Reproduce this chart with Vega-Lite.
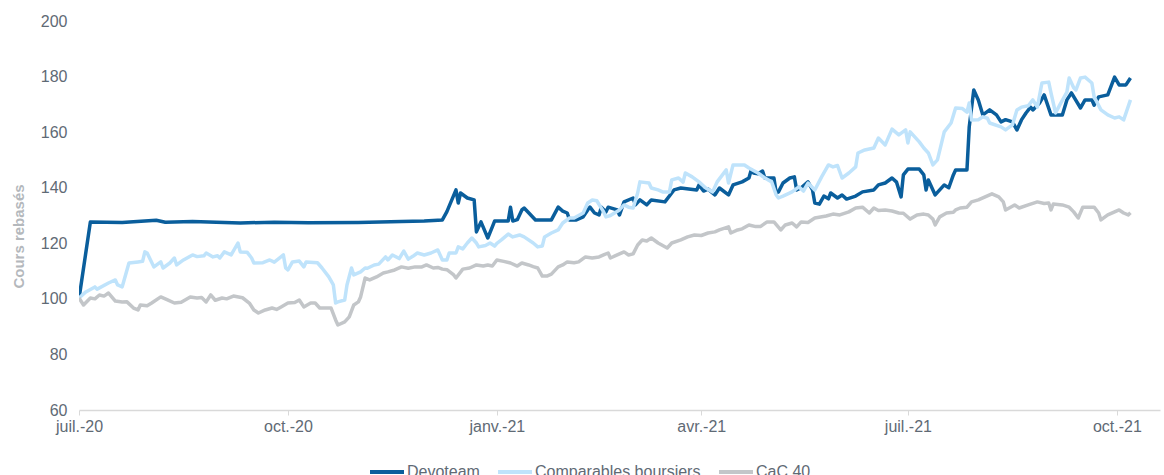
{
  "$schema": "https://vega.github.io/schema/vega-lite/v6.json",
  "width": 1081,
  "height": 389,
  "autosize": {"type": "none"},
  "padding": {"left": 79, "top": 21, "right": 4, "bottom": 65},
  "background": "white",
  "config": {
    "font": "Liberation Sans",
    "view": {"stroke": null}
  },
  "data": {"values": [
{"serie":"Devoteam","date":"2020-07-01","valeur":100},{"serie":"Devoteam","date":"2020-07-06","valeur":127.7},{"serie":"Devoteam","date":"2020-07-20","valeur":127.5},{"serie":"Devoteam","date":"2020-08-04","valeur":128.3},{"serie":"Devoteam","date":"2020-08-08","valeur":127.6},{"serie":"Devoteam","date":"2020-08-20","valeur":127.8},{"serie":"Devoteam","date":"2020-09-10","valeur":127.3},{"serie":"Devoteam","date":"2020-09-25","valeur":127.6},{"serie":"Devoteam","date":"2020-10-10","valeur":127.4},{"serie":"Devoteam","date":"2020-11-01","valeur":127.5},{"serie":"Devoteam","date":"2020-11-20","valeur":127.8},{"serie":"Devoteam","date":"2020-11-30","valeur":128},{"serie":"Devoteam","date":"2020-12-08","valeur":128.4},{"serie":"Devoteam","date":"2020-12-10","valeur":131.4},{"serie":"Devoteam","date":"2020-12-14","valeur":139.2},{"serie":"Devoteam","date":"2020-12-15","valeur":134.5},{"serie":"Devoteam","date":"2020-12-16","valeur":138.1},{"serie":"Devoteam","date":"2020-12-19","valeur":136.3},{"serie":"Devoteam","date":"2020-12-22","valeur":135.6},{"serie":"Devoteam","date":"2020-12-23","valeur":124.1},{"serie":"Devoteam","date":"2020-12-25","valeur":127.7},{"serie":"Devoteam","date":"2020-12-28","valeur":121.9},{"serie":"Devoteam","date":"2020-12-30","valeur":125.9},{"serie":"Devoteam","date":"2020-12-31","valeur":128},{"serie":"Devoteam","date":"2021-01-06","valeur":128},{"serie":"Devoteam","date":"2021-01-07","valeur":133},{"serie":"Devoteam","date":"2021-01-08","valeur":128},{"serie":"Devoteam","date":"2021-01-10","valeur":128.5},{"serie":"Devoteam","date":"2021-01-12","valeur":132},{"serie":"Devoteam","date":"2021-01-13","valeur":132.7},{"serie":"Devoteam","date":"2021-01-15","valeur":131},{"serie":"Devoteam","date":"2021-01-18","valeur":128.4},{"serie":"Devoteam","date":"2021-01-25","valeur":128.4},{"serie":"Devoteam","date":"2021-01-28","valeur":133},{"serie":"Devoteam","date":"2021-01-30","valeur":131.6},{"serie":"Devoteam","date":"2021-02-01","valeur":130.9},{"serie":"Devoteam","date":"2021-02-02","valeur":128.4},{"serie":"Devoteam","date":"2021-02-05","valeur":128.4},{"serie":"Devoteam","date":"2021-02-08","valeur":129.5},{"serie":"Devoteam","date":"2021-02-10","valeur":132},{"serie":"Devoteam","date":"2021-02-11","valeur":133},{"serie":"Devoteam","date":"2021-02-13","valeur":130.9},{"serie":"Devoteam","date":"2021-02-15","valeur":130.2},{"serie":"Devoteam","date":"2021-02-16","valeur":133},{"serie":"Devoteam","date":"2021-02-18","valeur":131.3},{"serie":"Devoteam","date":"2021-02-19","valeur":133},{"serie":"Devoteam","date":"2021-02-23","valeur":132},{"serie":"Devoteam","date":"2021-02-24","valeur":130.2},{"serie":"Devoteam","date":"2021-02-26","valeur":134.9},{"serie":"Devoteam","date":"2021-03-02","valeur":136.3},{"serie":"Devoteam","date":"2021-03-03","valeur":133.8},{"serie":"Devoteam","date":"2021-03-05","valeur":135.6},{"serie":"Devoteam","date":"2021-03-08","valeur":133.8},{"serie":"Devoteam","date":"2021-03-10","valeur":135.6},{"serie":"Devoteam","date":"2021-03-16","valeur":134.9},{"serie":"Devoteam","date":"2021-03-20","valeur":139.2},{"serie":"Devoteam","date":"2021-03-23","valeur":139.9},{"serie":"Devoteam","date":"2021-03-30","valeur":139.2},{"serie":"Devoteam","date":"2021-03-31","valeur":141},{"serie":"Devoteam","date":"2021-04-02","valeur":138.8},{"serie":"Devoteam","date":"2021-04-04","valeur":139.5},{"serie":"Devoteam","date":"2021-04-07","valeur":137.4},{"serie":"Devoteam","date":"2021-04-09","valeur":139.9},{"serie":"Devoteam","date":"2021-04-13","valeur":137.4},{"serie":"Devoteam","date":"2021-04-15","valeur":141},{"serie":"Devoteam","date":"2021-04-19","valeur":142.1},{"serie":"Devoteam","date":"2021-04-22","valeur":143.5},{"serie":"Devoteam","date":"2021-04-23","valeur":146.4},{"serie":"Devoteam","date":"2021-04-24","valeur":145.3},{"serie":"Devoteam","date":"2021-04-26","valeur":145},{"serie":"Devoteam","date":"2021-04-28","valeur":146},{"serie":"Devoteam","date":"2021-04-29","valeur":143.5},{"serie":"Devoteam","date":"2021-05-03","valeur":143.5},{"serie":"Devoteam","date":"2021-05-04","valeur":138.1},{"serie":"Devoteam","date":"2021-05-05","valeur":138.5},{"serie":"Devoteam","date":"2021-05-07","valeur":141.7},{"serie":"Devoteam","date":"2021-05-10","valeur":143.5},{"serie":"Devoteam","date":"2021-05-12","valeur":143.9},{"serie":"Devoteam","date":"2021-05-13","valeur":139.2},{"serie":"Devoteam","date":"2021-05-15","valeur":140},{"serie":"Devoteam","date":"2021-05-18","valeur":142.1},{"serie":"Devoteam","date":"2021-05-20","valeur":139.2},{"serie":"Devoteam","date":"2021-05-21","valeur":134.5},{"serie":"Devoteam","date":"2021-05-23","valeur":134.1},{"serie":"Devoteam","date":"2021-05-25","valeur":137},{"serie":"Devoteam","date":"2021-05-27","valeur":136},{"serie":"Devoteam","date":"2021-05-28","valeur":138.1},{"serie":"Devoteam","date":"2021-05-31","valeur":136.3},{"serie":"Devoteam","date":"2021-06-02","valeur":137.4},{"serie":"Devoteam","date":"2021-06-04","valeur":135.9},{"serie":"Devoteam","date":"2021-06-08","valeur":137},{"serie":"Devoteam","date":"2021-06-11","valeur":138.5},{"serie":"Devoteam","date":"2021-06-16","valeur":139.2},{"serie":"Devoteam","date":"2021-06-18","valeur":141},{"serie":"Devoteam","date":"2021-06-21","valeur":141.7},{"serie":"Devoteam","date":"2021-06-24","valeur":143.5},{"serie":"Devoteam","date":"2021-06-26","valeur":142},{"serie":"Devoteam","date":"2021-06-28","valeur":136.7},{"serie":"Devoteam","date":"2021-06-29","valeur":144.6},{"serie":"Devoteam","date":"2021-07-01","valeur":146.7},{"serie":"Devoteam","date":"2021-07-06","valeur":146.7},{"serie":"Devoteam","date":"2021-07-08","valeur":144.6},{"serie":"Devoteam","date":"2021-07-09","valeur":139.2},{"serie":"Devoteam","date":"2021-07-10","valeur":142.8},{"serie":"Devoteam","date":"2021-07-13","valeur":137.4},{"serie":"Devoteam","date":"2021-07-17","valeur":141},{"serie":"Devoteam","date":"2021-07-19","valeur":140},{"serie":"Devoteam","date":"2021-07-21","valeur":144.6},{"serie":"Devoteam","date":"2021-07-22","valeur":146.4},{"serie":"Devoteam","date":"2021-07-27","valeur":146.4},{"serie":"Devoteam","date":"2021-07-28","valeur":161.9},{"serie":"Devoteam","date":"2021-07-30","valeur":175.2},{"serie":"Devoteam","date":"2021-08-01","valeur":171.6},{"serie":"Devoteam","date":"2021-08-03","valeur":166.2},{"serie":"Devoteam","date":"2021-08-06","valeur":168},{"serie":"Devoteam","date":"2021-08-09","valeur":166.2},{"serie":"Devoteam","date":"2021-08-11","valeur":163.7},{"serie":"Devoteam","date":"2021-08-13","valeur":164.5},{"serie":"Devoteam","date":"2021-08-16","valeur":163.7},{"serie":"Devoteam","date":"2021-08-18","valeur":160.8},{"serie":"Devoteam","date":"2021-08-20","valeur":164.4},{"serie":"Devoteam","date":"2021-08-22","valeur":166.9},{"serie":"Devoteam","date":"2021-08-24","valeur":169},{"serie":"Devoteam","date":"2021-08-25","valeur":168},{"serie":"Devoteam","date":"2021-08-28","valeur":170.5},{"serie":"Devoteam","date":"2021-08-30","valeur":173.4},{"serie":"Devoteam","date":"2021-09-02","valeur":166.2},{"serie":"Devoteam","date":"2021-09-07","valeur":166.2},{"serie":"Devoteam","date":"2021-09-09","valeur":171.6},{"serie":"Devoteam","date":"2021-09-11","valeur":174.1},{"serie":"Devoteam","date":"2021-09-15","valeur":168.7},{"serie":"Devoteam","date":"2021-09-17","valeur":171.6},{"serie":"Devoteam","date":"2021-09-20","valeur":171.6},{"serie":"Devoteam","date":"2021-09-21","valeur":169.7},{"serie":"Devoteam","date":"2021-09-23","valeur":172.7},{"serie":"Devoteam","date":"2021-09-27","valeur":173.4},{"serie":"Devoteam","date":"2021-09-30","valeur":179.8},{"serie":"Devoteam","date":"2021-10-02","valeur":177},{"serie":"Devoteam","date":"2021-10-05","valeur":177},{"serie":"Devoteam","date":"2021-10-07","valeur":179.5},
{"serie":"Comparables boursiers","date":"2020-07-01","valeur":100.3},{"serie":"Comparables boursiers","date":"2020-07-04","valeur":102.5},{"serie":"Comparables boursiers","date":"2020-07-08","valeur":104.3},{"serie":"Comparables boursiers","date":"2020-07-09","valeur":103.5},{"serie":"Comparables boursiers","date":"2020-07-14","valeur":105.7},{"serie":"Comparables boursiers","date":"2020-07-17","valeur":106.8},{"serie":"Comparables boursiers","date":"2020-07-18","valeur":105},{"serie":"Comparables boursiers","date":"2020-07-20","valeur":104.3},{"serie":"Comparables boursiers","date":"2020-07-23","valeur":112.9},{"serie":"Comparables boursiers","date":"2020-07-27","valeur":113.3},{"serie":"Comparables boursiers","date":"2020-07-29","valeur":113.5},{"serie":"Comparables boursiers","date":"2020-07-30","valeur":116.9},{"serie":"Comparables boursiers","date":"2020-07-31","valeur":116.5},{"serie":"Comparables boursiers","date":"2020-08-03","valeur":111.5},{"serie":"Comparables boursiers","date":"2020-08-06","valeur":113.3},{"serie":"Comparables boursiers","date":"2020-08-07","valeur":111.1},{"serie":"Comparables boursiers","date":"2020-08-10","valeur":112.9},{"serie":"Comparables boursiers","date":"2020-08-12","valeur":114.7},{"serie":"Comparables boursiers","date":"2020-08-13","valeur":112.2},{"serie":"Comparables boursiers","date":"2020-08-16","valeur":114},{"serie":"Comparables boursiers","date":"2020-08-20","valeur":115.8},{"serie":"Comparables boursiers","date":"2020-08-22","valeur":115.2},{"serie":"Comparables boursiers","date":"2020-08-25","valeur":115.5},{"serie":"Comparables boursiers","date":"2020-08-26","valeur":116.5},{"serie":"Comparables boursiers","date":"2020-08-29","valeur":115.1},{"serie":"Comparables boursiers","date":"2020-08-31","valeur":115.5},{"serie":"Comparables boursiers","date":"2020-09-01","valeur":114.7},{"serie":"Comparables boursiers","date":"2020-09-03","valeur":116.9},{"serie":"Comparables boursiers","date":"2020-09-06","valeur":115.8},{"serie":"Comparables boursiers","date":"2020-09-09","valeur":120.1},{"serie":"Comparables boursiers","date":"2020-09-10","valeur":116.9},{"serie":"Comparables boursiers","date":"2020-09-13","valeur":116.8},{"serie":"Comparables boursiers","date":"2020-09-15","valeur":114.7},{"serie":"Comparables boursiers","date":"2020-09-16","valeur":112.9},{"serie":"Comparables boursiers","date":"2020-09-20","valeur":113},{"serie":"Comparables boursiers","date":"2020-09-23","valeur":114},{"serie":"Comparables boursiers","date":"2020-09-25","valeur":113.2},{"serie":"Comparables boursiers","date":"2020-09-29","valeur":115.8},{"serie":"Comparables boursiers","date":"2020-09-30","valeur":111.1},{"serie":"Comparables boursiers","date":"2020-10-01","valeur":110.4},{"serie":"Comparables boursiers","date":"2020-10-03","valeur":113.3},{"serie":"Comparables boursiers","date":"2020-10-06","valeur":113.6},{"serie":"Comparables boursiers","date":"2020-10-08","valeur":111.5},{"serie":"Comparables boursiers","date":"2020-10-09","valeur":113.3},{"serie":"Comparables boursiers","date":"2020-10-14","valeur":113},{"serie":"Comparables boursiers","date":"2020-10-16","valeur":111.1},{"serie":"Comparables boursiers","date":"2020-10-19","valeur":107.9},{"serie":"Comparables boursiers","date":"2020-10-21","valeur":105},{"serie":"Comparables boursiers","date":"2020-10-22","valeur":98.5},{"serie":"Comparables boursiers","date":"2020-10-23","valeur":98.9},{"serie":"Comparables boursiers","date":"2020-10-26","valeur":99.6},{"serie":"Comparables boursiers","date":"2020-10-27","valeur":105},{"serie":"Comparables boursiers","date":"2020-10-29","valeur":111.1},{"serie":"Comparables boursiers","date":"2020-10-30","valeur":108.6},{"serie":"Comparables boursiers","date":"2020-11-02","valeur":109.7},{"serie":"Comparables boursiers","date":"2020-11-04","valeur":111.1},{"serie":"Comparables boursiers","date":"2020-11-05","valeur":111},{"serie":"Comparables boursiers","date":"2020-11-08","valeur":112.2},{"serie":"Comparables boursiers","date":"2020-11-10","valeur":112.5},{"serie":"Comparables boursiers","date":"2020-11-13","valeur":115.1},{"serie":"Comparables boursiers","date":"2020-11-14","valeur":114},{"serie":"Comparables boursiers","date":"2020-11-16","valeur":115.8},{"serie":"Comparables boursiers","date":"2020-11-19","valeur":114.5},{"serie":"Comparables boursiers","date":"2020-11-21","valeur":117.2},{"serie":"Comparables boursiers","date":"2020-11-23","valeur":114.3},{"serie":"Comparables boursiers","date":"2020-11-25","valeur":115.3},{"serie":"Comparables boursiers","date":"2020-11-27","valeur":116.5},{"serie":"Comparables boursiers","date":"2020-11-30","valeur":115.8},{"serie":"Comparables boursiers","date":"2020-12-03","valeur":116.5},{"serie":"Comparables boursiers","date":"2020-12-06","valeur":117.6},{"serie":"Comparables boursiers","date":"2020-12-08","valeur":114},{"serie":"Comparables boursiers","date":"2020-12-10","valeur":114},{"serie":"Comparables boursiers","date":"2020-12-11","valeur":116.5},{"serie":"Comparables boursiers","date":"2020-12-14","valeur":116.5},{"serie":"Comparables boursiers","date":"2020-12-15","valeur":118.7},{"serie":"Comparables boursiers","date":"2020-12-17","valeur":118},{"serie":"Comparables boursiers","date":"2020-12-19","valeur":120.1},{"serie":"Comparables boursiers","date":"2020-12-21","valeur":121.9},{"serie":"Comparables boursiers","date":"2020-12-23","valeur":120.1},{"serie":"Comparables boursiers","date":"2020-12-24","valeur":118.7},{"serie":"Comparables boursiers","date":"2020-12-27","valeur":119.2},{"serie":"Comparables boursiers","date":"2020-12-29","valeur":120.1},{"serie":"Comparables boursiers","date":"2020-12-31","valeur":119},{"serie":"Comparables boursiers","date":"2021-01-01","valeur":120},{"serie":"Comparables boursiers","date":"2021-01-03","valeur":121.2},{"serie":"Comparables boursiers","date":"2021-01-06","valeur":123.3},{"serie":"Comparables boursiers","date":"2021-01-08","valeur":122.3},{"serie":"Comparables boursiers","date":"2021-01-11","valeur":123},{"serie":"Comparables boursiers","date":"2021-01-13","valeur":122.3},{"serie":"Comparables boursiers","date":"2021-01-17","valeur":120.1},{"serie":"Comparables boursiers","date":"2021-01-19","valeur":118.7},{"serie":"Comparables boursiers","date":"2021-01-21","valeur":119},{"serie":"Comparables boursiers","date":"2021-01-22","valeur":122.3},{"serie":"Comparables boursiers","date":"2021-01-25","valeur":123.7},{"serie":"Comparables boursiers","date":"2021-01-28","valeur":124.8},{"serie":"Comparables boursiers","date":"2021-01-30","valeur":127.3},{"serie":"Comparables boursiers","date":"2021-02-02","valeur":129.1},{"serie":"Comparables boursiers","date":"2021-02-04","valeur":129.1},{"serie":"Comparables boursiers","date":"2021-02-08","valeur":130.9},{"serie":"Comparables boursiers","date":"2021-02-10","valeur":134.5},{"serie":"Comparables boursiers","date":"2021-02-12","valeur":135.6},{"serie":"Comparables boursiers","date":"2021-02-14","valeur":135.3},{"serie":"Comparables boursiers","date":"2021-02-17","valeur":131.3},{"serie":"Comparables boursiers","date":"2021-02-18","valeur":129.5},{"serie":"Comparables boursiers","date":"2021-02-20","valeur":130},{"serie":"Comparables boursiers","date":"2021-02-24","valeur":132},{"serie":"Comparables boursiers","date":"2021-02-26","valeur":133.8},{"serie":"Comparables boursiers","date":"2021-02-28","valeur":133},{"serie":"Comparables boursiers","date":"2021-03-02","valeur":132.7},{"serie":"Comparables boursiers","date":"2021-03-04","valeur":138.1},{"serie":"Comparables boursiers","date":"2021-03-05","valeur":142.1},{"serie":"Comparables boursiers","date":"2021-03-09","valeur":141.7},{"serie":"Comparables boursiers","date":"2021-03-10","valeur":139.9},{"serie":"Comparables boursiers","date":"2021-03-13","valeur":139.2},{"serie":"Comparables boursiers","date":"2021-03-15","valeur":138.5},{"serie":"Comparables boursiers","date":"2021-03-18","valeur":138.5},{"serie":"Comparables boursiers","date":"2021-03-19","valeur":142.8},{"serie":"Comparables boursiers","date":"2021-03-22","valeur":143.5},{"serie":"Comparables boursiers","date":"2021-03-24","valeur":142},{"serie":"Comparables boursiers","date":"2021-03-25","valeur":145.3},{"serie":"Comparables boursiers","date":"2021-03-28","valeur":143.9},{"serie":"Comparables boursiers","date":"2021-03-31","valeur":142.1},{"serie":"Comparables boursiers","date":"2021-04-03","valeur":139.9},{"serie":"Comparables boursiers","date":"2021-04-06","valeur":138.5},{"serie":"Comparables boursiers","date":"2021-04-08","valeur":142.1},{"serie":"Comparables boursiers","date":"2021-04-12","valeur":146.4},{"serie":"Comparables boursiers","date":"2021-04-13","valeur":141.7},{"serie":"Comparables boursiers","date":"2021-04-15","valeur":148.2},{"serie":"Comparables boursiers","date":"2021-04-20","valeur":148.2},{"serie":"Comparables boursiers","date":"2021-04-22","valeur":147.1},{"serie":"Comparables boursiers","date":"2021-04-26","valeur":145.3},{"serie":"Comparables boursiers","date":"2021-04-29","valeur":143.5},{"serie":"Comparables boursiers","date":"2021-05-02","valeur":142.1},{"serie":"Comparables boursiers","date":"2021-05-04","valeur":137.4},{"serie":"Comparables boursiers","date":"2021-05-05","valeur":136.3},{"serie":"Comparables boursiers","date":"2021-05-07","valeur":137},{"serie":"Comparables boursiers","date":"2021-05-11","valeur":138.5},{"serie":"Comparables boursiers","date":"2021-05-14","valeur":140.3},{"serie":"Comparables boursiers","date":"2021-05-16","valeur":138.8},{"serie":"Comparables boursiers","date":"2021-05-18","valeur":141.7},{"serie":"Comparables boursiers","date":"2021-05-21","valeur":139.2},{"serie":"Comparables boursiers","date":"2021-05-24","valeur":143.9},{"serie":"Comparables boursiers","date":"2021-05-27","valeur":148.2},{"serie":"Comparables boursiers","date":"2021-05-29","valeur":147.5},{"serie":"Comparables boursiers","date":"2021-05-31","valeur":148},{"serie":"Comparables boursiers","date":"2021-06-02","valeur":143.5},{"serie":"Comparables boursiers","date":"2021-06-05","valeur":145.3},{"serie":"Comparables boursiers","date":"2021-06-08","valeur":147.5},{"serie":"Comparables boursiers","date":"2021-06-09","valeur":152.5},{"serie":"Comparables boursiers","date":"2021-06-12","valeur":153.6},{"serie":"Comparables boursiers","date":"2021-06-16","valeur":154.3},{"serie":"Comparables boursiers","date":"2021-06-18","valeur":157.9},{"serie":"Comparables boursiers","date":"2021-06-21","valeur":155.4},{"serie":"Comparables boursiers","date":"2021-06-24","valeur":161.1},{"serie":"Comparables boursiers","date":"2021-06-27","valeur":159},{"serie":"Comparables boursiers","date":"2021-06-30","valeur":160.8},{"serie":"Comparables boursiers","date":"2021-07-01","valeur":156.1},{"serie":"Comparables boursiers","date":"2021-07-02","valeur":160.1},{"serie":"Comparables boursiers","date":"2021-07-06","valeur":156.5},{"serie":"Comparables boursiers","date":"2021-07-08","valeur":154.3},{"serie":"Comparables boursiers","date":"2021-07-10","valeur":152.5},{"serie":"Comparables boursiers","date":"2021-07-12","valeur":148.2},{"serie":"Comparables boursiers","date":"2021-07-14","valeur":150},{"serie":"Comparables boursiers","date":"2021-07-17","valeur":160.1},{"serie":"Comparables boursiers","date":"2021-07-20","valeur":163.3},{"serie":"Comparables boursiers","date":"2021-07-22","valeur":168.7},{"serie":"Comparables boursiers","date":"2021-07-25","valeur":168.5},{"serie":"Comparables boursiers","date":"2021-07-27","valeur":167.2},{"serie":"Comparables boursiers","date":"2021-07-28","valeur":170.5},{"serie":"Comparables boursiers","date":"2021-07-29","valeur":164.4},{"serie":"Comparables boursiers","date":"2021-08-01","valeur":164.5},{"serie":"Comparables boursiers","date":"2021-08-03","valeur":165.5},{"serie":"Comparables boursiers","date":"2021-08-05","valeur":165},{"serie":"Comparables boursiers","date":"2021-08-06","valeur":163.3},{"serie":"Comparables boursiers","date":"2021-08-11","valeur":161.9},{"serie":"Comparables boursiers","date":"2021-08-13","valeur":160.8},{"serie":"Comparables boursiers","date":"2021-08-16","valeur":162.6},{"serie":"Comparables boursiers","date":"2021-08-18","valeur":168},{"serie":"Comparables boursiers","date":"2021-08-20","valeur":169},{"serie":"Comparables boursiers","date":"2021-08-23","valeur":169.5},{"serie":"Comparables boursiers","date":"2021-08-25","valeur":171.6},{"serie":"Comparables boursiers","date":"2021-08-27","valeur":169},{"serie":"Comparables boursiers","date":"2021-08-29","valeur":177.7},{"serie":"Comparables boursiers","date":"2021-09-01","valeur":178},{"serie":"Comparables boursiers","date":"2021-09-02","valeur":174.1},{"serie":"Comparables boursiers","date":"2021-09-04","valeur":166.9},{"serie":"Comparables boursiers","date":"2021-09-06","valeur":170},{"serie":"Comparables boursiers","date":"2021-09-09","valeur":174.4},{"serie":"Comparables boursiers","date":"2021-09-10","valeur":179.5},{"serie":"Comparables boursiers","date":"2021-09-12","valeur":176},{"serie":"Comparables boursiers","date":"2021-09-13","valeur":175.2},{"serie":"Comparables boursiers","date":"2021-09-15","valeur":179.5},{"serie":"Comparables boursiers","date":"2021-09-17","valeur":179.8},{"serie":"Comparables boursiers","date":"2021-09-20","valeur":177.7},{"serie":"Comparables boursiers","date":"2021-09-21","valeur":172.7},{"serie":"Comparables boursiers","date":"2021-09-24","valeur":168},{"serie":"Comparables boursiers","date":"2021-09-27","valeur":166.2},{"serie":"Comparables boursiers","date":"2021-09-30","valeur":165.1},{"serie":"Comparables boursiers","date":"2021-10-02","valeur":165.5},{"serie":"Comparables boursiers","date":"2021-10-04","valeur":164.4},{"serie":"Comparables boursiers","date":"2021-10-07","valeur":171.6},
{"serie":"CaC 40","date":"2020-07-01","valeur":100.3},{"serie":"CaC 40","date":"2020-07-03","valeur":97.8},{"serie":"CaC 40","date":"2020-07-06","valeur":100.3},{"serie":"CaC 40","date":"2020-07-08","valeur":100},{"serie":"CaC 40","date":"2020-07-10","valeur":101.4},{"serie":"CaC 40","date":"2020-07-12","valeur":101},{"serie":"CaC 40","date":"2020-07-14","valeur":102.1},{"serie":"CaC 40","date":"2020-07-17","valeur":99.2},{"serie":"CaC 40","date":"2020-07-20","valeur":98.9},{"serie":"CaC 40","date":"2020-07-22","valeur":99},{"serie":"CaC 40","date":"2020-07-25","valeur":96.7},{"serie":"CaC 40","date":"2020-07-27","valeur":96},{"serie":"CaC 40","date":"2020-07-28","valeur":97.8},{"serie":"CaC 40","date":"2020-07-31","valeur":97.5},{"serie":"CaC 40","date":"2020-08-02","valeur":98.5},{"serie":"CaC 40","date":"2020-08-06","valeur":100.7},{"serie":"CaC 40","date":"2020-08-09","valeur":99.6},{"serie":"CaC 40","date":"2020-08-12","valeur":98.5},{"serie":"CaC 40","date":"2020-08-15","valeur":98.8},{"serie":"CaC 40","date":"2020-08-19","valeur":100.7},{"serie":"CaC 40","date":"2020-08-22","valeur":100.3},{"serie":"CaC 40","date":"2020-08-24","valeur":100.5},{"serie":"CaC 40","date":"2020-08-26","valeur":98.9},{"serie":"CaC 40","date":"2020-08-28","valeur":101.4},{"serie":"CaC 40","date":"2020-08-30","valeur":99.5},{"serie":"CaC 40","date":"2020-09-02","valeur":100.3},{"serie":"CaC 40","date":"2020-09-04","valeur":100},{"serie":"CaC 40","date":"2020-09-07","valeur":101},{"serie":"CaC 40","date":"2020-09-11","valeur":100.4},{"serie":"CaC 40","date":"2020-09-14","valeur":98.5},{"serie":"CaC 40","date":"2020-09-16","valeur":96},{"serie":"CaC 40","date":"2020-09-18","valeur":94.9},{"serie":"CaC 40","date":"2020-09-21","valeur":96},{"serie":"CaC 40","date":"2020-09-24","valeur":96.7},{"serie":"CaC 40","date":"2020-09-26","valeur":96.2},{"serie":"CaC 40","date":"2020-09-28","valeur":97.1},{"serie":"CaC 40","date":"2020-10-01","valeur":98.5},{"serie":"CaC 40","date":"2020-10-04","valeur":98.7},{"serie":"CaC 40","date":"2020-10-06","valeur":99.6},{"serie":"CaC 40","date":"2020-10-08","valeur":97.1},{"serie":"CaC 40","date":"2020-10-11","valeur":98.5},{"serie":"CaC 40","date":"2020-10-13","valeur":98.5},{"serie":"CaC 40","date":"2020-10-15","valeur":96.7},{"serie":"CaC 40","date":"2020-10-20","valeur":96.7},{"serie":"CaC 40","date":"2020-10-22","valeur":92.4},{"serie":"CaC 40","date":"2020-10-23","valeur":90.6},{"serie":"CaC 40","date":"2020-10-26","valeur":91.7},{"serie":"CaC 40","date":"2020-10-28","valeur":93.5},{"serie":"CaC 40","date":"2020-10-30","valeur":97.8},{"serie":"CaC 40","date":"2020-11-01","valeur":98.9},{"serie":"CaC 40","date":"2020-11-02","valeur":100.7},{"serie":"CaC 40","date":"2020-11-04","valeur":107.5},{"serie":"CaC 40","date":"2020-11-06","valeur":106.8},{"serie":"CaC 40","date":"2020-11-09","valeur":107.9},{"serie":"CaC 40","date":"2020-11-12","valeur":109.3},{"serie":"CaC 40","date":"2020-11-14","valeur":109.7},{"serie":"CaC 40","date":"2020-11-17","valeur":110.4},{"serie":"CaC 40","date":"2020-11-20","valeur":111.5},{"serie":"CaC 40","date":"2020-11-23","valeur":111},{"serie":"CaC 40","date":"2020-11-26","valeur":111.5},{"serie":"CaC 40","date":"2020-11-29","valeur":111.5},{"serie":"CaC 40","date":"2020-12-01","valeur":112.2},{"serie":"CaC 40","date":"2020-12-04","valeur":111.1},{"serie":"CaC 40","date":"2020-12-06","valeur":111.3},{"serie":"CaC 40","date":"2020-12-08","valeur":110.7},{"serie":"CaC 40","date":"2020-12-10","valeur":110.5},{"serie":"CaC 40","date":"2020-12-13","valeur":108.6},{"serie":"CaC 40","date":"2020-12-14","valeur":107.5},{"serie":"CaC 40","date":"2020-12-17","valeur":110.7},{"serie":"CaC 40","date":"2020-12-20","valeur":111.1},{"serie":"CaC 40","date":"2020-12-23","valeur":112.2},{"serie":"CaC 40","date":"2020-12-26","valeur":111.8},{"serie":"CaC 40","date":"2020-12-28","valeur":112.2},{"serie":"CaC 40","date":"2020-12-30","valeur":111.8},{"serie":"CaC 40","date":"2021-01-01","valeur":114},{"serie":"CaC 40","date":"2021-01-04","valeur":113.5},{"serie":"CaC 40","date":"2021-01-07","valeur":112.9},{"serie":"CaC 40","date":"2021-01-10","valeur":111.8},{"serie":"CaC 40","date":"2021-01-12","valeur":112.9},{"serie":"CaC 40","date":"2021-01-15","valeur":112.2},{"serie":"CaC 40","date":"2021-01-17","valeur":111.6},{"serie":"CaC 40","date":"2021-01-19","valeur":111.1},{"serie":"CaC 40","date":"2021-01-21","valeur":108.2},{"serie":"CaC 40","date":"2021-01-23","valeur":108.2},{"serie":"CaC 40","date":"2021-01-25","valeur":108.9},{"serie":"CaC 40","date":"2021-01-28","valeur":111.5},{"serie":"CaC 40","date":"2021-01-30","valeur":112.2},{"serie":"CaC 40","date":"2021-02-01","valeur":113.3},{"serie":"CaC 40","date":"2021-02-04","valeur":113},{"serie":"CaC 40","date":"2021-02-06","valeur":113.3},{"serie":"CaC 40","date":"2021-02-09","valeur":115.1},{"serie":"CaC 40","date":"2021-02-12","valeur":114.7},{"serie":"CaC 40","date":"2021-02-15","valeur":115.1},{"serie":"CaC 40","date":"2021-02-17","valeur":115.8},{"serie":"CaC 40","date":"2021-02-19","valeur":116.5},{"serie":"CaC 40","date":"2021-02-20","valeur":114.7},{"serie":"CaC 40","date":"2021-02-23","valeur":115.8},{"serie":"CaC 40","date":"2021-02-26","valeur":116.9},{"serie":"CaC 40","date":"2021-02-28","valeur":115.8},{"serie":"CaC 40","date":"2021-03-02","valeur":116.2},{"serie":"CaC 40","date":"2021-03-04","valeur":119.4},{"serie":"CaC 40","date":"2021-03-06","valeur":121.2},{"serie":"CaC 40","date":"2021-03-08","valeur":120.8},{"serie":"CaC 40","date":"2021-03-10","valeur":121.9},{"serie":"CaC 40","date":"2021-03-13","valeur":120.1},{"serie":"CaC 40","date":"2021-03-17","valeur":118.3},{"serie":"CaC 40","date":"2021-03-19","valeur":120.1},{"serie":"CaC 40","date":"2021-03-23","valeur":121.2},{"serie":"CaC 40","date":"2021-03-26","valeur":122.3},{"serie":"CaC 40","date":"2021-03-29","valeur":123},{"serie":"CaC 40","date":"2021-04-01","valeur":122.8},{"serie":"CaC 40","date":"2021-04-04","valeur":123.7},{"serie":"CaC 40","date":"2021-04-07","valeur":124.1},{"serie":"CaC 40","date":"2021-04-09","valeur":124.8},{"serie":"CaC 40","date":"2021-04-13","valeur":125.9},{"serie":"CaC 40","date":"2021-04-14","valeur":123.7},{"serie":"CaC 40","date":"2021-04-17","valeur":124.8},{"serie":"CaC 40","date":"2021-04-19","valeur":125.2},{"serie":"CaC 40","date":"2021-04-22","valeur":126.6},{"serie":"CaC 40","date":"2021-04-25","valeur":126},{"serie":"CaC 40","date":"2021-04-27","valeur":126},{"serie":"CaC 40","date":"2021-04-30","valeur":127.7},{"serie":"CaC 40","date":"2021-05-03","valeur":127.7},{"serie":"CaC 40","date":"2021-05-06","valeur":124.8},{"serie":"CaC 40","date":"2021-05-08","valeur":126.6},{"serie":"CaC 40","date":"2021-05-11","valeur":127.3},{"serie":"CaC 40","date":"2021-05-13","valeur":125.9},{"serie":"CaC 40","date":"2021-05-15","valeur":127.7},{"serie":"CaC 40","date":"2021-05-18","valeur":127.5},{"serie":"CaC 40","date":"2021-05-21","valeur":129.1},{"serie":"CaC 40","date":"2021-05-26","valeur":129.8},{"serie":"CaC 40","date":"2021-05-29","valeur":130.5},{"serie":"CaC 40","date":"2021-06-01","valeur":130.2},{"serie":"CaC 40","date":"2021-06-05","valeur":131.3},{"serie":"CaC 40","date":"2021-06-08","valeur":132.7},{"serie":"CaC 40","date":"2021-06-11","valeur":133},{"serie":"CaC 40","date":"2021-06-14","valeur":130.9},{"serie":"CaC 40","date":"2021-06-16","valeur":132.7},{"serie":"CaC 40","date":"2021-06-18","valeur":131.8},{"serie":"CaC 40","date":"2021-06-21","valeur":132},{"serie":"CaC 40","date":"2021-06-24","valeur":131.6},{"serie":"CaC 40","date":"2021-06-27","valeur":130.9},{"serie":"CaC 40","date":"2021-06-29","valeur":130.8},{"serie":"CaC 40","date":"2021-07-02","valeur":128.7},{"serie":"CaC 40","date":"2021-07-05","valeur":130.2},{"serie":"CaC 40","date":"2021-07-08","valeur":130.5},{"serie":"CaC 40","date":"2021-07-10","valeur":130.2},{"serie":"CaC 40","date":"2021-07-12","valeur":128.7},{"serie":"CaC 40","date":"2021-07-13","valeur":126.6},{"serie":"CaC 40","date":"2021-07-15","valeur":129.5},{"serie":"CaC 40","date":"2021-07-18","valeur":130.9},{"serie":"CaC 40","date":"2021-07-21","valeur":131.2},{"serie":"CaC 40","date":"2021-07-22","valeur":132},{"serie":"CaC 40","date":"2021-07-24","valeur":132.7},{"serie":"CaC 40","date":"2021-07-27","valeur":133},{"serie":"CaC 40","date":"2021-07-29","valeur":134.9},{"serie":"CaC 40","date":"2021-08-01","valeur":135.6},{"serie":"CaC 40","date":"2021-08-04","valeur":136.7},{"serie":"CaC 40","date":"2021-08-07","valeur":137.8},{"serie":"CaC 40","date":"2021-08-10","valeur":136.7},{"serie":"CaC 40","date":"2021-08-12","valeur":134.9},{"serie":"CaC 40","date":"2021-08-13","valeur":132},{"serie":"CaC 40","date":"2021-08-17","valeur":133.8},{"serie":"CaC 40","date":"2021-08-19","valeur":132.7},{"serie":"CaC 40","date":"2021-08-23","valeur":133.8},{"serie":"CaC 40","date":"2021-08-27","valeur":134.9},{"serie":"CaC 40","date":"2021-08-30","valeur":134.3},{"serie":"CaC 40","date":"2021-09-01","valeur":134.5},{"serie":"CaC 40","date":"2021-09-02","valeur":132},{"serie":"CaC 40","date":"2021-09-03","valeur":134.1},{"serie":"CaC 40","date":"2021-09-07","valeur":133.8},{"serie":"CaC 40","date":"2021-09-10","valeur":133},{"serie":"CaC 40","date":"2021-09-12","valeur":131.3},{"serie":"CaC 40","date":"2021-09-14","valeur":129.1},{"serie":"CaC 40","date":"2021-09-16","valeur":133},{"serie":"CaC 40","date":"2021-09-21","valeur":133},{"serie":"CaC 40","date":"2021-09-23","valeur":130.9},{"serie":"CaC 40","date":"2021-09-24","valeur":128.4},{"serie":"CaC 40","date":"2021-09-27","valeur":130.2},{"serie":"CaC 40","date":"2021-09-30","valeur":131.3},{"serie":"CaC 40","date":"2021-10-02","valeur":132},{"serie":"CaC 40","date":"2021-10-04","valeur":130.9},{"serie":"CaC 40","date":"2021-10-06","valeur":130.2},{"serie":"CaC 40","date":"2021-10-07","valeur":131}
  ]},
  "mark": {"type": "line", "strokeWidth": 3.5, "strokeJoin": "round", "clip": true},
  "encoding": {
    "x": {
      "field": "date", "type": "temporal",
      "scale": {"type": "utc", "domain": [{"year": 2020, "month": 7, "date": 1, "utc": true}, {"year": 2021, "month": 10, "date": 20, "utc": true}]},
      "axis": {
        "title": null,
        "values": [
          {"year": 2020, "month": 7, "date": 1, "utc": true},
          {"year": 2020, "month": 10, "date": 1, "utc": true},
          {"year": 2021, "month": 1, "date": 1, "utc": true},
          {"year": 2021, "month": 4, "date": 1, "utc": true},
          {"year": 2021, "month": 7, "date": 1, "utc": true},
          {"year": 2021, "month": 10, "date": 1, "utc": true}
        ],
        "labelExpr": "['janv.','févr.','mars','avr.','mai','juin','juil.','août','sept.','oct.','nov.','déc.'][utcmonth(datum.value)] + '-' + utcFormat(datum.value, '%y')",
        "grid": false,
        "domainColor": "#d9d9d9",
        "domainWidth": 1.5,
        "tickColor": "#d9d9d9",
        "tickSize": 5,
        "labelFontSize": 16,
        "labelColor": "#5f6a75",
        "labelPadding": 3,
        "labelFlush": false,
        "labelOverlap": false
      }
    },
    "y": {
      "field": "valeur", "type": "quantitative",
      "scale": {"domain": [60, 200], "nice": false, "zero": false},
      "axis": {
        "title": "Cours rebasés",
        "values": [60, 80, 100, 120, 140, 160, 180, 200],
        "grid": false,
        "domain": false,
        "ticks": false,
        "labelFontSize": 16,
        "labelColor": "#5f6a75",
        "labelPadding": 12,
        "titleColor": "#b4b8bc",
        "titleFontSize": 15,
        "titleFontWeight": "bold",
        "titleX": -61,
        "titleY": 215,
        "titleAngle": -90,
        "titleAlign": "center",
        "titleBaseline": "middle"
      }
    },
    "color": {
      "field": "serie", "type": "nominal",
      "scale": {
        "domain": ["Devoteam", "Comparables boursiers", "CaC 40"],
        "range": ["#0a5e9c", "#bfe3fb", "#c3c6c9"]
      },
      "legend": {
        "title": null,
        "orient": "none",
        "direction": "horizontal",
        "legendX": 289,
        "legendY": 432,
        "symbolType": "stroke",
        "symbolSize": 1156,
        "symbolStrokeWidth": 4,
        "labelFontSize": 16,
        "labelLimit": 0,
        "labelColor": "#5f6a75",
        "labelOffset": 1,
        "columnPadding": 10
      }
    }
  }
}
